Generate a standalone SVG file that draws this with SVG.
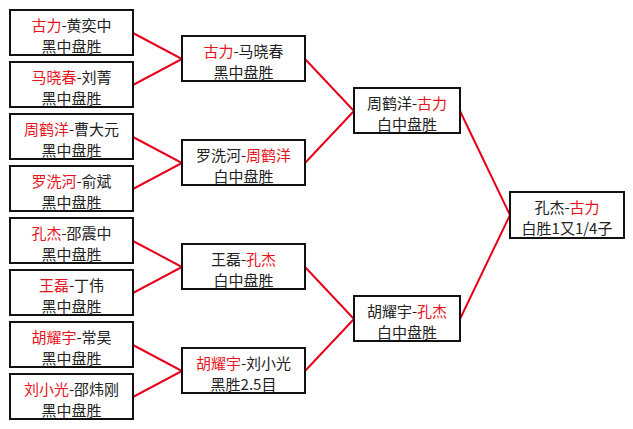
<svg xmlns="http://www.w3.org/2000/svg" width="633" height="429" viewBox="0 0 633 429">
<style>
.b{fill:#fff;stroke:#111;stroke-width:2}
.t{font-family:"Noto Sans CJK SC","Liberation Sans",sans-serif;font-size:15px;fill:#222;text-anchor:middle}
.r{fill:#e8141e}
.c{fill:none;stroke:#e8001a;stroke-width:2}
</style>
<rect width="633" height="429" fill="#fff"/>
<g id="connectors">
<polyline class="c" points="133,33 182,59 133,85"/>
<polyline class="c" points="133,137 182,163 133,189"/>
<polyline class="c" points="133,241 182,267 133,293"/>
<polyline class="c" points="133,345 182,371 133,397"/>
<polyline class="c" points="305,59 354,111 305,163"/>
<polyline class="c" points="305,267 354,319 305,371"/>
<polyline class="c" points="460,111 510,215 460,319"/>
</g>
<g id="n1"><rect class="b" x="10" y="10" width="123" height="45"/><text class="t" x="71.5" y="31"><tspan class="r">古力</tspan>-黄奕中</text><text class="t" x="71.5" y="52">黑中盘胜</text></g>
<g id="n2"><rect class="b" x="10" y="62" width="123" height="45"/><text class="t" x="71.5" y="83"><tspan class="r">马晓春</tspan>-刘菁</text><text class="t" x="71.5" y="104">黑中盘胜</text></g>
<g id="n3"><rect class="b" x="10" y="114" width="123" height="45"/><text class="t" x="71.5" y="135"><tspan class="r">周鹤洋</tspan>-曹大元</text><text class="t" x="71.5" y="156">黑中盘胜</text></g>
<g id="n4"><rect class="b" x="10" y="166" width="123" height="45"/><text class="t" x="71.5" y="187"><tspan class="r">罗洗河</tspan>-俞斌</text><text class="t" x="71.5" y="208">黑中盘胜</text></g>
<g id="n5"><rect class="b" x="10" y="218" width="123" height="45"/><text class="t" x="71.5" y="239"><tspan class="r">孔杰</tspan>-邵震中</text><text class="t" x="71.5" y="260">黑中盘胜</text></g>
<g id="n6"><rect class="b" x="10" y="270" width="123" height="45"/><text class="t" x="71.5" y="291"><tspan class="r">王磊</tspan>-丁伟</text><text class="t" x="71.5" y="312">黑中盘胜</text></g>
<g id="n7"><rect class="b" x="10" y="322" width="123" height="45"/><text class="t" x="71.5" y="343"><tspan class="r">胡耀宇</tspan>-常昊</text><text class="t" x="71.5" y="364">黑中盘胜</text></g>
<g id="n8"><rect class="b" x="10" y="374" width="123" height="45"/><text class="t" x="71.5" y="395"><tspan class="r">刘小光</tspan>-邵炜刚</text><text class="t" x="71.5" y="416">黑中盘胜</text></g>
<g id="m1"><rect class="b" x="182" y="36" width="123" height="45"/><text class="t" x="243.5" y="57"><tspan class="r">古力</tspan>-马晓春</text><text class="t" x="243.5" y="78">黑中盘胜</text></g>
<g id="m2"><rect class="b" x="182" y="140" width="123" height="45"/><text class="t" x="243.5" y="161">罗洗河-<tspan class="r">周鹤洋</tspan></text><text class="t" x="243.5" y="182">白中盘胜</text></g>
<g id="m3"><rect class="b" x="182" y="244" width="123" height="45"/><text class="t" x="243.5" y="265">王磊-<tspan class="r">孔杰</tspan></text><text class="t" x="243.5" y="286">白中盘胜</text></g>
<g id="m4"><rect class="b" x="182" y="348" width="123" height="45"/><text class="t" x="243.5" y="369"><tspan class="r">胡耀宇</tspan>-刘小光</text><text class="t" x="243.5" y="390">黑胜2.5目</text></g>
<g id="s1"><rect class="b" x="354" y="88" width="106" height="45"/><text class="t" x="407" y="109">周鹤洋-<tspan class="r">古力</tspan></text><text class="t" x="407" y="130">白中盘胜</text></g>
<g id="s2"><rect class="b" x="354" y="296" width="106" height="45"/><text class="t" x="407" y="317">胡耀宇-<tspan class="r">孔杰</tspan></text><text class="t" x="407" y="338">白中盘胜</text></g>
<g id="f"><rect class="b" x="510" y="192" width="114" height="46"/><text class="t" x="567" y="213">孔杰-<tspan class="r">古力</tspan></text><text class="t" x="567" y="234">白胜1又1/4子</text></g>
</svg>
